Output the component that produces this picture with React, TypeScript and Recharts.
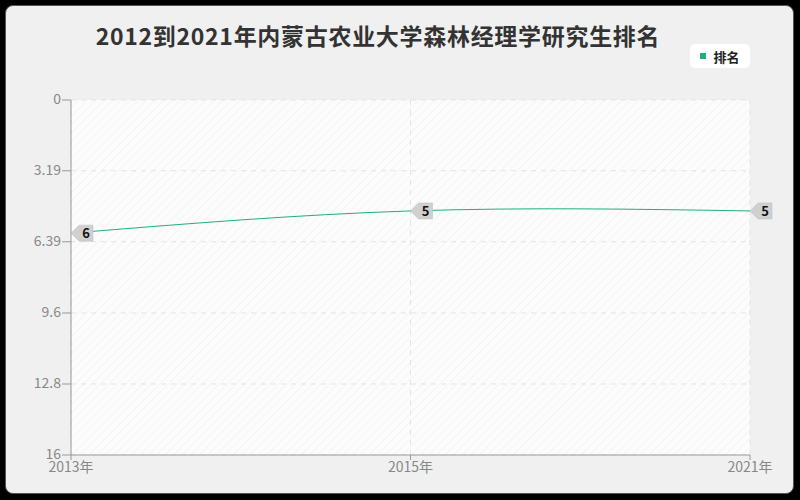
import { CartesianGrid, Line, LineChart, XAxis, YAxis } from "recharts";

const years = ["2013年", "2015年", "2021年"];
const ranks = [6, 5, 5];
const rankTicks = [0, 3.19, 6.39, 9.6, 12.8, 16];

const data = years.map((y, i) => ({ year: y, rank: ranks[i] }));

const GREEN = "#1fb07e";
const CJK = '"Noto Sans CJK SC", "Noto Sans", sans-serif';

function ArrowLabel(props: any) {
  const { x, y, value } = props;
  if (x == null || y == null) return null;
  const pts = `${x},${y} ${x + 8},${y - 8} ${x + 22},${y - 8} ${x + 22},${y + 8} ${x + 8},${y + 8}`;
  return (
    <g>
      <polygon points={pts} fill="#d0d0d0" stroke="#bdbdbd" strokeWidth={0.5} />
      <text x={x + 15} y={y + 5} textAnchor="middle" fontSize={13} fontWeight="bold" fill="#111" fontFamily={CJK}>
        {value}
      </text>
    </g>
  );
}

export default function App() {
  return (
    <div style={{ position: "fixed", left: 0, top: 0, width: 800, height: 500, background: "#000" }}>
      <div
        style={{
          position: "absolute",
          left: 5,
          top: 5,
          width: 787,
          height: 487,
          background: "#f0f0f0",
          border: "1px solid #555",
          borderRadius: 8,
        }}
      />
      <div
        style={{
          position: "absolute",
          left: 0,
          top: 19,
          width: 756,
          textAlign: "center",
          fontFamily: CJK,
          fontSize: 23,
          letterSpacing: 0.7,
          fontWeight: "bold",
          color: "#333",
          lineHeight: "32px",
        }}
      >
        2012到2021年内蒙古农业大学森林经理学研究生排名
      </div>
      <div
        style={{
          position: "absolute",
          left: 690,
          top: 44,
          width: 60,
          height: 24,
          background: "#fff",
          borderRadius: 5,
          display: "flex",
          alignItems: "center",
          justifyContent: "center",
          gap: 7,
          fontFamily: CJK,
          fontSize: 13,
          fontWeight: "bold",
          color: "#222",
        }}
      >
        <span style={{ width: 6, height: 6, background: GREEN, display: "inline-block" }} />
        排名
      </div>
      <div style={{ position: "absolute", left: 0, top: 0 }}>
        <LineChart width={800} height={500} data={data} margin={{ top: 100, right: 50, bottom: 15, left: 0 }}>
          <defs>
            <pattern id="hatch" width="6" height="6" patternUnits="userSpaceOnUse" patternTransform="rotate(45)">
              <rect width="6" height="6" fill="#fcfcfc" />
              <line x1="0" y1="0" x2="0" y2="6" stroke="#f2f2f2" strokeWidth="1.5" />
            </pattern>
          </defs>
          <CartesianGrid fill="url(#hatch)" stroke="#e3e3e3" strokeDasharray="5 5" />
          <XAxis
            dataKey="year"
            height={30}
            padding={{ left: 0, right: 0 }}
            tick={{ fill: "#888", fontSize: 14, fontFamily: CJK }}
            stroke="#999"
            tickSize={5}
            tickMargin={2}
          />
          <YAxis
            width={71}
            reversed
            domain={[0, 16]}
            ticks={rankTicks}
            interval={0}
            tick={{ fill: "#888", fontSize: 14, fontFamily: CJK, dy: -1 }}
            stroke="#999"
            tickSize={9}
            tickMargin={1}
          />
          <Line
            type="natural"
            dataKey="rank"
            name="排名"
            stroke={GREEN}
            strokeWidth={1}
            dot={false}
            activeDot={false}
            isAnimationActive={false}
            label={<ArrowLabel />}
          />
        </LineChart>
      </div>
    </div>
  );
}
